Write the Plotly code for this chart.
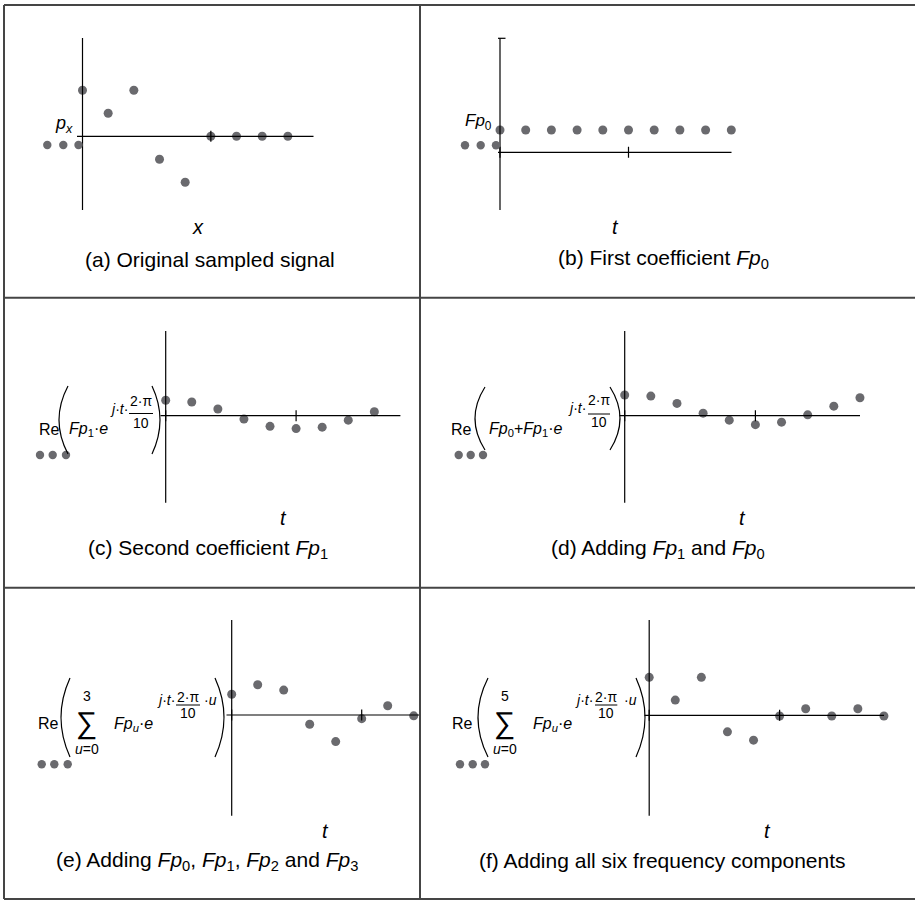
import plotly.graph_objects as go

W, H = 915, 901
FONT = "Liberation Sans, Arial, Helvetica, sans-serif"
DOT = "#6a6a6e"
INK = "#000000"
RULE = "#454545"

# ---------------- data ----------------
t_idx = list(range(10))
p_x = [2, 1, 2, -1, -2, 0, 0, 0, 0, 0]
fp0 = [0.2, 0.2, 0.2, 0.2, 0.2, 0.2, 0.2, 0.2, 0.2, 0.2]
re_fp1 = [0.55, 0.49, 0.24, -0.12, -0.38, -0.46, -0.41, -0.16, 0.14, 0.44]
re_fp0_fp1 = [0.74, 0.70, 0.44, 0.09, -0.16, -0.32, -0.23, 0.03, 0.34, 0.64]
re_sum3 = [0.74, 1.08, 0.89, -0.33, -0.95, -0.13, 0.33, -0.03]
re_sum5 = [1.10, 0.44, 1.10, -0.48, -0.72, -0.02, 0.19, -0.02, 0.19, -0.02]

series = [p_x, fp0, re_fp1, re_fp0_fp1, re_sum3, re_sum5]
axis_names = ["x", "t", "t", "t", "t", "t"]
captions = [
    "(a) Original sampled signal",
    "(b) First coefficient <i>Fp</i><sub>0</sub>",
    "(c) Second coefficient <i>Fp</i><sub>1</sub>",
    "(d) Adding <i>Fp</i><sub>1</sub> and <i>Fp</i><sub>0</sub>",
    "(e) Adding <i>Fp</i><sub>0</sub>, <i>Fp</i><sub>1</sub>, <i>Fp</i><sub>2</sub> and <i>Fp</i><sub>3</sub>",
    "(f) Adding all six frequency components",
]

# ---------------- panel geometry (pixels) ----------------
# x0: pixel of t=0, dx: pixels per sample, xl/xr: horizontal axis extent
# y0: pixel of value 0, s: pixels per unit, ytop/ybot: vertical axis extent
panels = [
    dict(x0=82.5, dx=25.67, xl=77.0, xr=313.5, y0=136.3, s=23.0, ytop=38.0, ybot=210.0,
         cap=(210, 259), lab=(198, 227), origin_tick=False, cap_top=False),
    dict(x0=500.0, dx=25.7, xl=498.0, xr=731.5, y0=152.3, s=111.5, ytop=38.3, ybot=210.0,
         cap=(663, 259), lab=(615, 227), origin_tick=True, cap_top=True),
    dict(x0=165.7, dx=26.08, xl=160.5, xr=400.4, y0=415.7, s=28.0, ytop=331.0, ybot=502.7,
         cap=(208, 549), lab=(283, 518), origin_tick=True, cap_top=False),
    dict(x0=624.7, dx=26.14, xl=619.5, xr=860.0, y0=415.7, s=28.0, ytop=331.0, ybot=502.7,
         cap=(658, 549), lab=(742, 518), origin_tick=True, cap_top=False),
    dict(x0=231.7, dx=26.0, xl=226.5, xr=420.0, y0=715.0, s=28.0, ytop=620.0, ybot=815.7,
         cap=(207, 861), lab=(325, 831), origin_tick=True, cap_top=False),
    dict(x0=649.2, dx=26.08, xl=644.5, xr=884.0, y0=715.3, s=34.5, ytop=620.0, ybot=815.7,
         cap=(662, 860), lab=(767, 831), origin_tick=True, cap_top=False),
]


def X(px):
    return px / W


def Y(py):
    return 1 - py / H


fig = go.Figure()
layout = dict(
    width=W, height=H, autosize=False,
    margin=dict(l=0, r=0, t=0, b=0),
    paper_bgcolor="white", plot_bgcolor="rgba(0,0,0,0)",
    showlegend=False,
)
shapes = []
annotations = []


def text(px, py, s, size, xanchor="center", yanchor="middle"):
    annotations.append(dict(
        x=X(px), y=Y(py), xref="paper", yref="paper", text=s, showarrow=False,
        xanchor=xanchor, yanchor=yanchor,
        font=dict(family=FONT, size=size, color=INK),
    ))


def pline(xa, ya, xb, yb, color=INK, width=1.2):
    shapes.append(dict(type="line", xref="paper", yref="paper",
                       x0=X(xa), y0=Y(ya), x1=X(xb), y1=Y(yb),
                       line=dict(color=color, width=width)))


def paren(x_end, x_bulge, ytop, ybot):
    ym = (ytop + ybot) / 2
    cx = 2 * x_bulge - x_end
    shapes.append(dict(
        type="path", xref="paper", yref="paper",
        path=f"M {X(x_end)},{Y(ytop)} Q {X(cx)},{Y(ym)} {X(x_end)},{Y(ybot)}",
        line=dict(color=INK, width=1.2),
    ))


def key_dots(xs, y, r=4.2):
    for cx in xs:
        shapes.append(dict(type="circle", xref="paper", yref="paper",
                           x0=X(cx - r), x1=X(cx + r), y0=Y(y + r), y1=Y(y - r),
                           fillcolor=DOT, line=dict(width=0)))


# ---------------- the six plots ----------------
for i, (g, vals) in enumerate(zip(panels, series)):
    n = "" if i == 0 else str(i + 1)
    xa, ya = "x" + n, "y" + n
    layout["xaxis" + n] = dict(
        domain=[X(g["xl"]), X(g["xr"])],
        range=[(g["xl"] - g["x0"]) / g["dx"], (g["xr"] - g["x0"]) / g["dx"]],
        anchor=ya, visible=False, fixedrange=True,
    )
    layout["yaxis" + n] = dict(
        domain=[Y(g["ybot"]), Y(g["ytop"])],
        range=[(g["y0"] - g["ybot"]) / g["s"], (g["y0"] - g["ytop"]) / g["s"]],
        anchor=xa, visible=False, fixedrange=True,
    )
    fig.add_trace(go.Scatter(
        x=t_idx[:len(vals)], y=vals, mode="markers", xaxis=xa, yaxis=ya,
        cliponaxis=False, hoverinfo="skip",
        marker=dict(size=9, color=DOT, line=dict(width=0)),
    ))
    # vertical axis
    shapes.append(dict(type="line", xref=xa, yref=ya + " domain", x0=0, x1=0, y0=0, y1=1,
                       line=dict(color=INK, width=1.2)))
    # horizontal axis
    shapes.append(dict(type="line", xref=xa + " domain", yref=ya, x0=0, x1=1, y0=0, y1=0,
                       line=dict(color=INK, width=1.2)))
    # tick marks crossing the horizontal axis
    ticks = [5] + ([0] if g["origin_tick"] else [])
    for tk in ticks:
        shapes.append(dict(type="line", xref=xa, yref=ya, ysizemode="pixel", yanchor=0,
                           x0=tk, x1=tk, y0=-5.5, y1=5.5,
                           line=dict(color=INK, width=1.2)))
    if g["cap_top"]:
        shapes.append(dict(type="line", xref=xa, yref=ya + " domain", xsizemode="pixel",
                           xanchor=0, x0=-5.5, x1=5.5, y0=1, y1=1,
                           line=dict(color=INK, width=1.2)))
    text(g["lab"][0], g["lab"][1], "<i>%s</i>" % axis_names[i], 20)
    text(g["cap"][0], g["cap"][1], captions[i], 21)

# ---------------- trace keys ----------------
key_dots([47.3, 63.3, 78.5], 145.0)
key_dots([465.0, 480.7, 496.0], 145.3)
key_dots([40.0, 52.7, 66.0], 455.0)
key_dots([458.7, 470.7, 483.0], 455.0)
key_dots([41.7, 54.3, 67.7], 764.3)
key_dots([460.0, 472.7, 485.0], 764.3)

# ---------------- trace names / expressions ----------------
text(53, 124, "<i>p</i><sub><i>x</i></sub>", 18, xanchor="left")
text(462.7, 122, "<i>Fp</i><sub>0</sub>", 17, xanchor="left")

# (c)
text(36.7, 430, "Re", 16, xanchor="left")
paren(68, 59, 386, 454)
text(67, 430, "<i>Fp</i><sub>1</sub>·<i>e</i>", 16, xanchor="left")
text(108, 409, "<i>j</i>·<i>t</i>·", 14, xanchor="left")
text(141, 401, "2·π", 14)
pline(129, 413.5, 153, 413.5, width=1)
text(141, 423, "10", 14)
paren(152, 160, 386, 454)

# (d)
text(461, 430, "Re", 16)
paren(485, 475, 387, 450)
text(487, 430, "<i>Fp</i><sub>0</sub>+<i>Fp</i><sub>1</sub>·<i>e</i>", 16, xanchor="left")
text(566, 408, "<i>j</i>·<i>t</i>·", 14, xanchor="left")
text(599, 400, "2·π", 14)
pline(588, 414, 610, 414, width=1)
text(599, 422, "10", 14)
paren(610, 620, 387, 450)

# (e)
text(36, 723, "Re", 16, xanchor="left")
paren(70, 61, 678, 757)
text(86.5, 696, "3", 14)
text(86.5, 722.7, "∑", 30)
text(86.5, 749, "<i>u</i>=0", 14)
text(111.7, 724, "<i>Fp</i><sub><i>u</i></sub>·<i>e</i>", 16, xanchor="left")
text(155, 700, "<i>j</i>·<i>t</i>·", 14, xanchor="left")
text(188, 697, "2·π", 14)
pline(176, 705, 200, 705, width=1)
text(188, 713, "10", 14)
text(201.7, 700, "·<i>u</i>", 14, xanchor="left")
paren(215, 224, 678, 757)

# (f)
text(475, 723, "Re", 16, xanchor="right")
paren(488, 478, 678, 757)
text(505, 696, "5", 14)
text(505, 722.7, "∑", 30)
text(505, 749, "<i>u</i>=0", 14)
text(530.7, 724, "<i>Fp</i><sub><i>u</i></sub>·<i>e</i>", 16, xanchor="left")
text(573.3, 700, "<i>j</i>·<i>t</i>·", 14, xanchor="left")
text(606, 697, "2·π", 14)
pline(595, 705, 617.3, 705, width=1)
text(606, 713, "10", 14)
text(621.7, 700, "·<i>u</i>", 14, xanchor="left")
paren(636, 645, 678, 757)

# ---------------- table rules ----------------
pline(4, 5, 916, 5, RULE, 2)
pline(4, 899, 916, 899, RULE, 2)
pline(4, 5, 4, 899, RULE, 2)
pline(420, 5, 420, 899, RULE, 2)
pline(4, 297.7, 916, 297.7, RULE, 2)
pline(4, 587.7, 916, 587.7, RULE, 2)

layout["shapes"] = shapes
layout["annotations"] = annotations
fig.update_layout(**layout)
fig.write_html("out.html")
